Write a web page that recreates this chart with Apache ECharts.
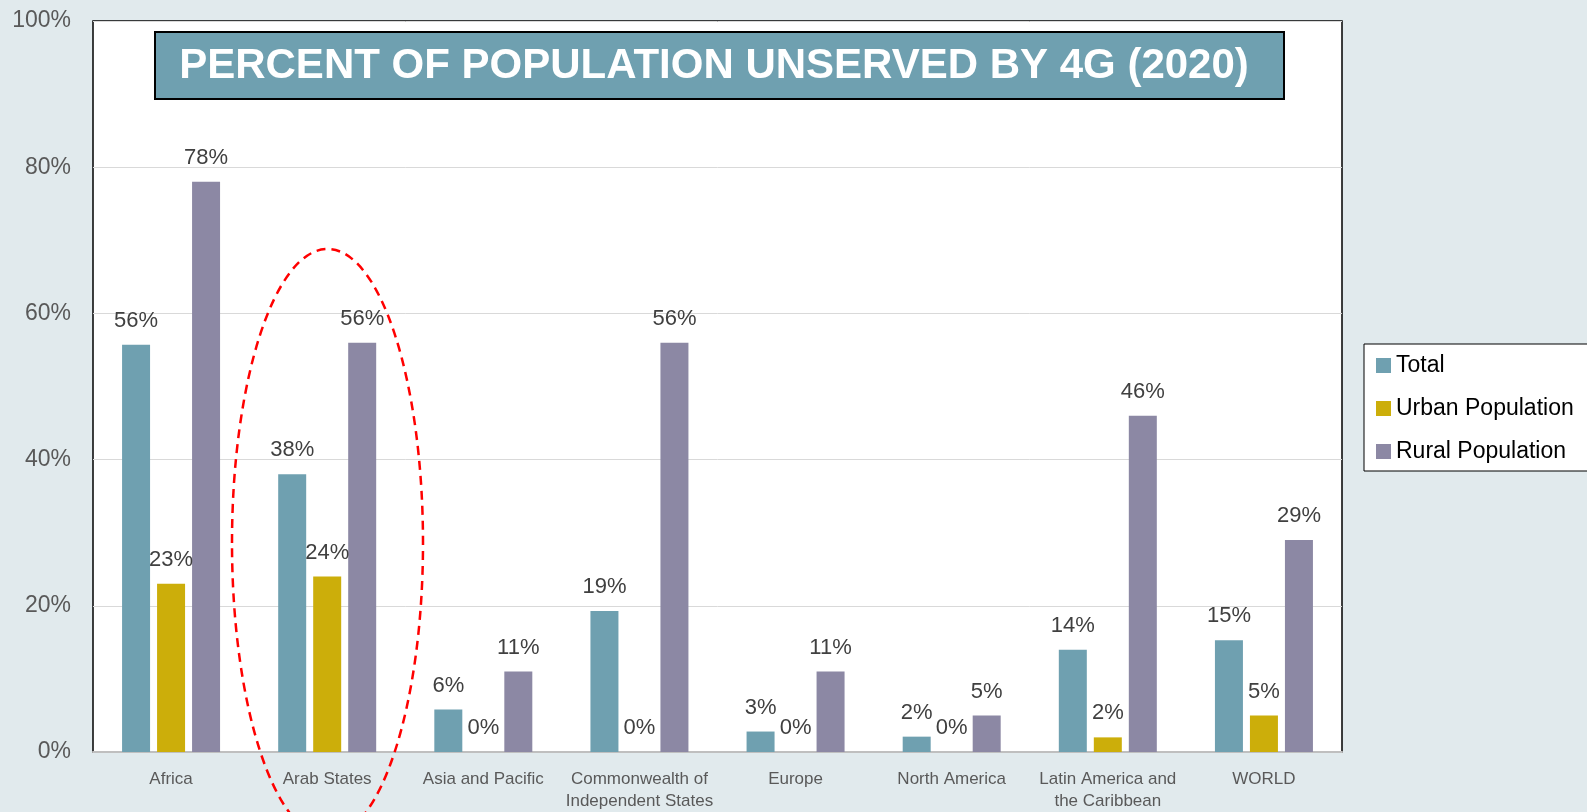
<!DOCTYPE html>
<html>
<head>
<meta charset="utf-8">
<title>Percent of population unserved by 4G (2020)</title>
<script src="https://cdn.jsdelivr.net/npm/echarts@6/dist/echarts.min.js"></script>
<style>
  html, body { margin: 0; padding: 0; background: #e1eaed; }
  #chart { width: 1587px; height: 812px; }
</style>
</head>
<body>
<div id="chart"></div>
<script>
// regions on the x axis
const regions = [
  "Africa",
  "Arab States",
  "Asia and Pacific",
  "Commonwealth of\nIndependent States",
  "Europe",
  "North America",
  "Latin America and\nthe Caribbean",
  "WORLD",
];
// percent unserved
const totalValues = [55.7, 38, 5.8, 19.3, 2.8, 2.1, 14, 15.3];
const urbanValues = [23, 24, 0, 0, 0, 0, 2, 5];
const ruralValues = [78, 56, 11, 56, 11, 5, 46, 29];
const yTicks = [0, 20, 40, 60, 80, 100];

const labelFont = "Liberation Sans";

function barSeries(name, data, color) {
  return {
    name: name,
    type: "bar",
    data: data,
    barWidth: 28,
    barGap: "25%",
    itemStyle: { color: color },
    label: {
      show: true,
      position: "top",
      distance: 13,
      fontFamily: labelFont,
      fontSize: 22,
      color: "#404040",
      formatter: (p) => Math.round(p.value) + "%",
    },
  };
}

let myChart = echarts.init(document.getElementById("chart"));
myChart.setOption({
  backgroundColor: "#e1eaed",
  animation: false,
  grid: {
    left: 93,
    right: 245,
    top: 21,
    bottom: 59,
    show: true,
    backgroundColor: "#ffffff",
    borderColor: "#000000",
    borderWidth: 1.5,
  },
  legend: {
    orient: "vertical",
    left: 1364,
    top: 344,
    padding: [10, 40, 8, 12],
    itemWidth: 15,
    itemHeight: 15,
    itemGap: 20,
    icon: "rect",
    backgroundColor: "#ffffff",
    borderColor: "#000000",
    borderWidth: 1,
    textStyle: { fontFamily: labelFont, fontSize: 23, color: "#000000" },
    data: ["Total", "Urban Population", "Rural Population"],
  },
  xAxis: {
    type: "category",
    data: regions,
    axisTick: { show: false },
    axisLine: { lineStyle: { color: "#bfbfbf", width: 2 } },
    axisLabel: {
      interval: 0,
      margin: 16,
      fontFamily: labelFont,
      fontSize: 17,
      lineHeight: 22,
      color: "#595959",
    },
  },
  yAxis: {
    type: "value",
    min: yTicks[0],
    max: yTicks[yTicks.length - 1],
    interval: 20,
    axisLine: { show: false },
    axisTick: { show: false },
    splitLine: { lineStyle: { color: "#d9d9d9", width: 1 } },
    axisLabel: {
      margin: 22,
      fontFamily: labelFont,
      fontSize: 23,
      color: "#595959",
      formatter: "{value}%",
    },
  },
  series: [
    barSeries("Total", totalValues, "#6fa0b0"),
    barSeries("Urban Population", urbanValues, "#ccae0a"),
    barSeries("Rural Population", ruralValues, "#8c88a4"),
  ],
  graphic: [
    {
      // title box
      type: "group",
      left: 154,
      top: 31,
      children: [
        {
          type: "rect",
          shape: { x: 0, y: 0, width: 1129, height: 67 },
          style: { fill: "#6fa0b0", stroke: "#000000", lineWidth: 2 },
        },
        {
          type: "text",
          x: 559,
          y: 34,
          style: {
            text: "PERCENT OF POPULATION UNSERVED BY 4G (2020)",
            fill: "#ffffff",
            font: "bold 42px 'Liberation Sans'",
            align: "center",
            verticalAlign: "middle",
          },
        },
      ],
    },
    {
      // red dashed highlight around Arab States
      type: "ellipse",
      silent: true,
      z: 100,
      shape: { cx: 327.5, cy: 543, rx: 95.5, ry: 294 },
      style: {
        fill: "none",
        stroke: "#ff0000",
        lineWidth: 2.5,
        lineDash: [9, 6],
      },
    },
  ],
});
</script>
</body>
</html>
